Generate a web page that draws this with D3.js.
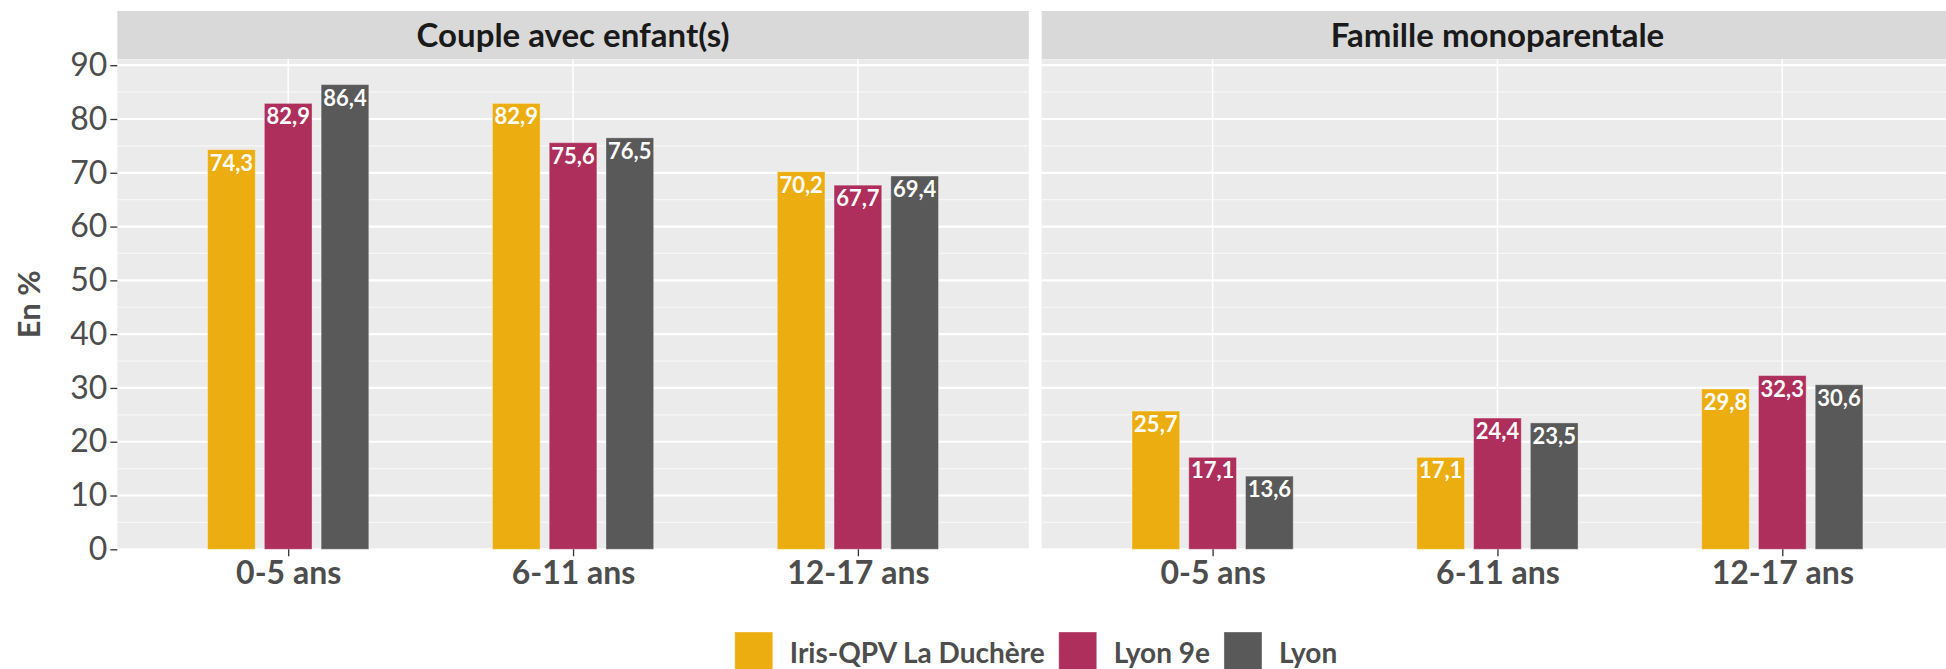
<!DOCTYPE html>
<html>
<head>
<meta charset="utf-8">
<script src="https://cdn.jsdelivr.net/npm/d3@7"></script>
<style>
  body { margin: 0; background: #fff; }
  svg text { font-family: Lato, "Open Sans", sans-serif; }
</style>
</head>
<body>
<svg id="chart" width="1946" height="669"></svg>
<script>
// data
const categories = ['0-5 ans', '6-11 ans', '12-17 ans'];
const facets = ['Couple avec enfant(s)', 'Famille monoparentale'];
const series = ['Iris-QPV La Duchère', 'Lyon 9e', 'Lyon'];
const colors = ['#ECAD10', '#AE2F5C', '#595959'];
// one row per series, one value per age group
const coupleValues = [
  [74.3, 82.9, 70.2],
  [82.9, 75.6, 67.7],
  [86.4, 76.5, 69.4]
];
const monoValues = [
  [25.7, 17.1, 29.8],
  [17.1, 24.4, 32.3],
  [13.6, 23.5, 30.6]
];
const yTicks = [0, 10, 20, 30, 40, 50, 60, 70, 80, 90];
const yMinor = [5, 15, 25, 35, 45, 55, 65, 75, 85];

const facetValues = [coupleValues, monoValues];

const svg = d3.select('#chart');

const panelLeft = [117.3, 1041.7];
const panelW = 911.5;
const stripTop = 11;
const panelTop = 59.3;
const panelBottom = 549.3;

const y = d3.scaleLinear()
  .domain([0, 91.1])
  .range([panelBottom, panelTop]);

const fmt = v => d3.format('.1f')(v).replace('.', ',');

facets.forEach((facet, fi) => {
  const x0 = panelLeft[fi];
  const x = d3.scalePoint()
    .domain(categories)
    .range([0, panelW])
    .padding(0.6);
  const step = x.step();
  const xs = d3.scaleBand()
    .domain(series)
    .range([-0.283 * step, 0.283 * step])
    .paddingInner(0.16);

  const g = svg.append('g').attr('transform', `translate(${x0},0)`);

  // strip
  g.append('rect')
    .attr('x', 0).attr('y', stripTop)
    .attr('width', panelW).attr('height', panelTop - stripTop)
    .attr('fill', '#D9D9D9');
  g.append('text')
    .attr('x', panelW / 2).attr('y', 46.5)
    .attr('text-anchor', 'middle')
    .attr('font-weight', 'bold')
    .attr('font-size', 33)
    .attr('fill', '#1A1A1A')
    .text(facet);

  // panel background + grid
  g.append('rect')
    .attr('x', 0).attr('y', panelTop)
    .attr('width', panelW).attr('height', panelBottom - panelTop)
    .attr('fill', '#EBEBEB');

  g.selectAll('.minor')
    .data(yMinor)
    .join('line')
    .attr('x1', 0).attr('x2', panelW)
    .attr('y1', d => y(d)).attr('y2', d => y(d))
    .attr('stroke', '#F7F7F7').attr('stroke-width', 1.2);

  g.selectAll('.major')
    .data(yTicks)
    .join('line')
    .attr('x1', 0).attr('x2', panelW)
    .attr('y1', d => y(d)).attr('y2', d => y(d))
    .attr('stroke', '#fff').attr('stroke-width', 2.2);

  g.selectAll('.vgrid')
    .data(categories)
    .join('line')
    .attr('x1', d => x(d)).attr('x2', d => x(d))
    .attr('y1', panelTop).attr('y2', panelBottom)
    .attr('stroke', '#fff').attr('stroke-width', 1.5);

  // bars
  const rows = [];
  categories.forEach((c, ci) => {
    series.forEach((s, si) => {
      rows.push({ cat: c, ser: s, color: colors[si], value: facetValues[fi][si][ci] });
    });
  });

  const bars = g.selectAll('.bar')
    .data(rows)
    .join('g');

  bars.append('rect')
    .attr('x', d => x(d.cat) + xs(d.ser))
    .attr('y', d => y(d.value))
    .attr('width', xs.bandwidth())
    .attr('height', d => y(0) - y(d.value))
    .attr('fill', d => d.color)
    .attr('stroke', 'rgba(255,255,255,0.35)')
    .attr('stroke-width', 1);

  bars.append('text')
    .attr('x', d => x(d.cat) + xs(d.ser) + xs.bandwidth() / 2)
    .attr('y', d => y(d.value) + 21)
    .attr('text-anchor', 'middle')
    .attr('font-weight', 'bold')
    .attr('font-size', 22)
    .attr('fill', '#fff')
    .text(d => fmt(d.value));

  // x axis
  const xAxis = g.append('g')
    .attr('transform', `translate(0,${panelBottom})`)
    .call(d3.axisBottom(x).tickSize(7));
  xAxis.select('.domain').remove();
  xAxis.selectAll('line').attr('stroke', '#333').attr('stroke-width', 1.3);
  xAxis.selectAll('text')
    .attr('y', 35).attr('dy', null)
    .attr('font-size', 32)
    .attr('font-weight', 'bold')
    .attr('font-family', 'Lato, "Open Sans", sans-serif')
    .attr('fill', '#4D4D4D');

  // y axis only on first panel
  if (fi === 0) {
    const yAxis = g.append('g')
      .call(d3.axisLeft(y).tickValues(yTicks).tickSize(7).tickPadding(3));
    yAxis.select('.domain').remove();
    yAxis.selectAll('line').attr('stroke', '#333').attr('stroke-width', 1.3);
    yAxis.selectAll('text')
      .attr('font-size', 32)
      .attr('font-family', 'Lato, "Open Sans", sans-serif')
      .attr('fill', '#4D4D4D');
  }
});

// y title
svg.append('text')
  .attr('transform', `translate(40,${(panelTop + panelBottom) / 2}) rotate(-90)`)
  .attr('text-anchor', 'middle')
  .attr('font-weight', 'bold')
  .attr('font-size', 31)
  .attr('fill', '#4D4D4D')
  .text('En %');

// legend
const legend = svg.append('g');
const keySize = 38;
let lx = 0;
series.forEach((s, i) => {
  const item = legend.append('g').attr('transform', `translate(${lx},0)`);
  item.append('rect')
    .attr('x', 0).attr('y', 632)
    .attr('width', keySize).attr('height', keySize)
    .attr('fill', colors[i])
    .attr('stroke', 'rgba(255,255,255,0.35)');
  const t = item.append('text')
    .attr('x', keySize + 17).attr('y', 663)
    .attr('font-weight', 'bold')
    .attr('font-size', 28)
    .attr('fill', '#4D4D4D')
    .text(s);
  lx += keySize + 17 + t.node().getComputedTextLength() + 14;
});
const legendW = lx - 14;
legend.attr('transform', `translate(${1036 - legendW / 2},0)`);
</script>
</body>
</html>
